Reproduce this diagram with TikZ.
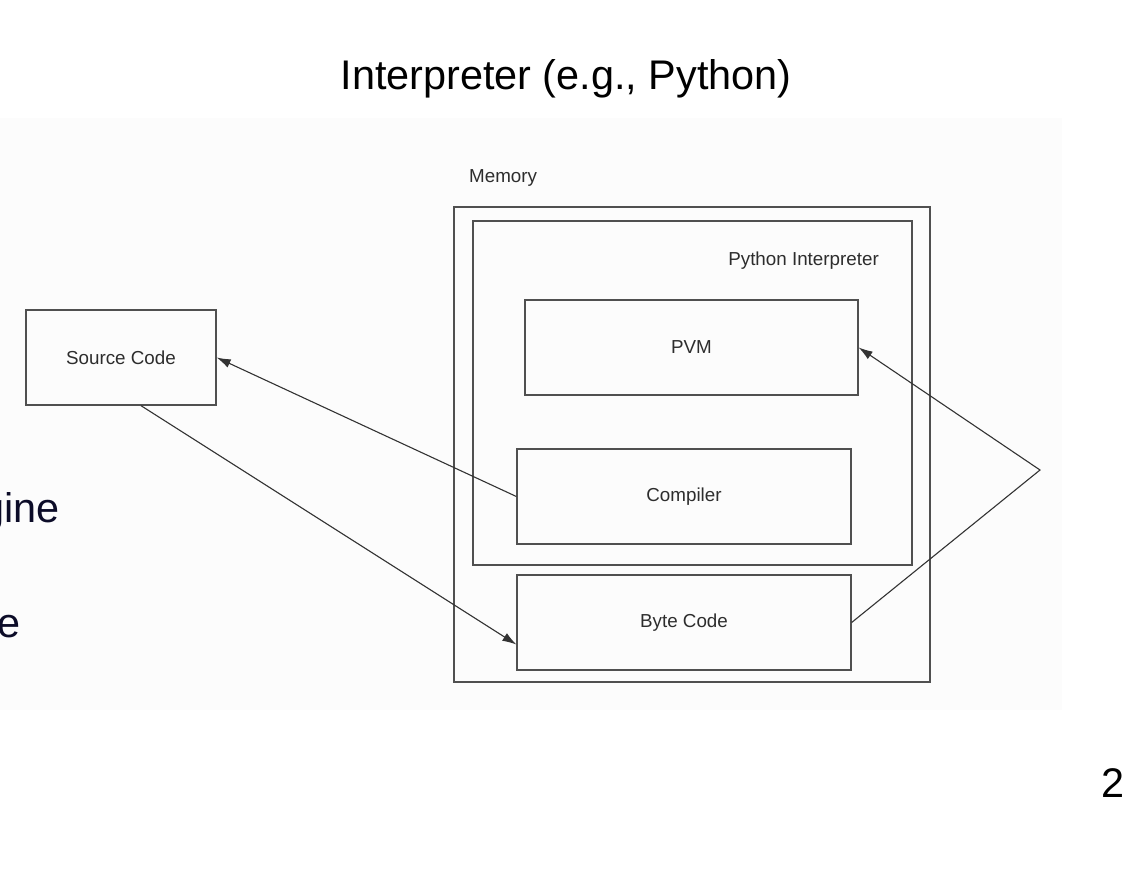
\documentclass[tikz,border=0pt]{standalone}
\usepackage{fontspec}
\setmainfont{Liberation Sans}
\usetikzlibrary{arrows.meta}
\definecolor{linegray}{RGB}{80,80,80}
\definecolor{textgray}{RGB}{45,45,45}
\definecolor{slidenavy}{RGB}{12,12,40}
\tikzset{
	box/.style={draw=linegray, line width=1.3pt, rectangle, inner sep=0pt,
		text=textgray, font=\fontsize{18.8}{22}\selectfont},
	lbl/.style={text=textgray, inner sep=0pt, font=\fontsize{18.8}{22}\selectfont},
	big/.style={inner sep=0pt, font=\fontsize{41.4}{48}\selectfont},
	flow/.style={draw=black!80, line width=1.1pt, -{Latex[length=14pt, width=9pt]}}
}
\begin{document}
\begin{tikzpicture}[x=1pt, y=-1pt]
\useasboundingbox (0, 0) rectangle (1136, 870);

%backdrop
\fill[black!1.2] (0, 118) rectangle (1062, 710);

\node[big, anchor=base] (title) at (566, 89) {Interpreter (e.g., Python)};
\node[big, anchor=base west, text=slidenavy] (engine) at (-19, 522) {gine};
\node[big, anchor=base east, text=slidenavy] (code) at (21, 637) {e};
\node[big, anchor=base] (page) at (1113, 797) {2};

%boxes
\node[box, minimum width=476, minimum height=475] (memory) at (692, 444.5) {};
\node[box, minimum width=439, minimum height=344] (interp) at (692.5, 393) {};
\node[lbl, anchor=west] (memlbl) at (469, 178) {Memory};
\node[lbl, anchor=east] (interplbl) at (879, 261) {Python Interpreter};

\node[box, minimum width=190, minimum height=95] (source) at (121, 357.5) {Source Code};
\node[box, minimum width=333, minimum height=95] (pvm) at (691.5, 347.5) {PVM};
\node[box, minimum width=334, minimum height=95] (compiler) at (684, 496.5) {Compiler};
\node[box, minimum width=334, minimum height=95] (bytecode) at (684, 622.5) {Byte Code};

%arrows
\coordinate (bend) at (1040, 470);
\draw[flow] (compiler.west) -- (source.east);
\draw[flow] ([xshift=20pt]source.south) -- ([yshift=-22pt]bytecode.west);
\draw[flow] (bytecode.east) -- (bend) -- (pvm.east);

\end{tikzpicture}
\end{document}
